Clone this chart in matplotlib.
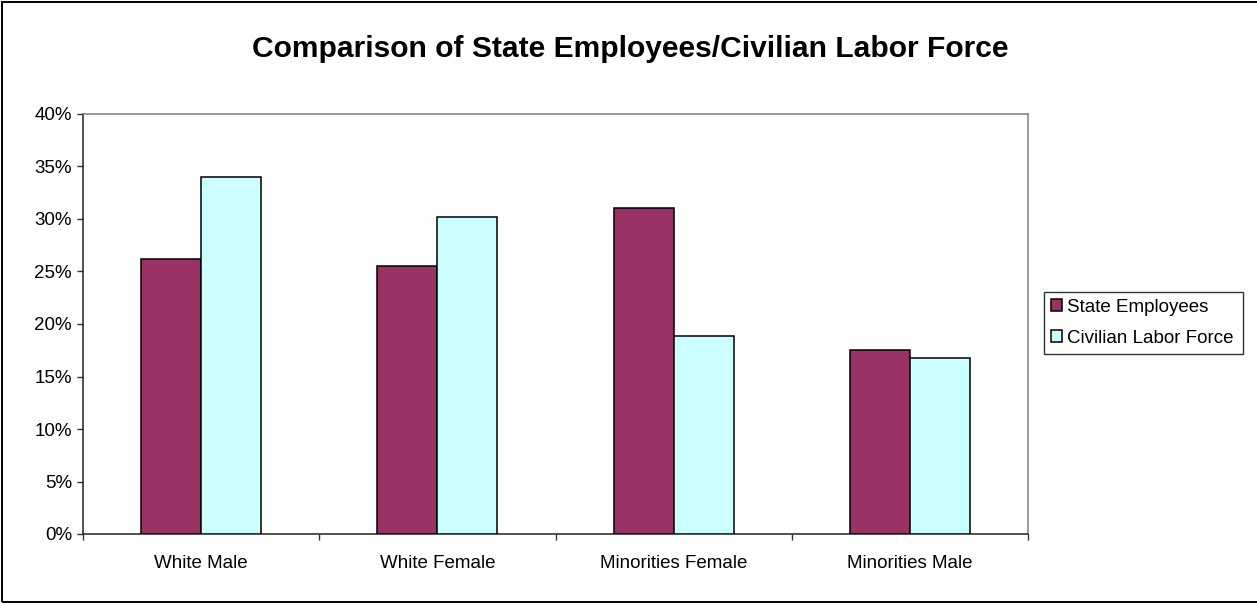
import numpy as np
import matplotlib
matplotlib.use("Agg")
import matplotlib.pyplot as plt
from matplotlib.patches import Rectangle

# ===============================
# Data
# ===============================
categories = ["White Male", "White Female", "Minorities Female", "Minorities Male"]
state_employees = [26.2, 25.5, 31.0, 17.5]
civilian_labor = [34.0, 30.2, 18.9, 16.8]
y_ticks = [0, 5, 10, 15, 20, 25, 30, 35, 40]

# ===============================
# Style
# ===============================
plt.rcParams["font.family"] = ["Liberation Sans", "DejaVu Sans"]
maroon = "#993366"
cyan = "#CCFFFF"
W, H = 1257, 603

fig = plt.figure(figsize=(W / 100, H / 100), dpi=100)

# outer chart border (right side runs off the image)
fig.add_artist(Rectangle((2 / W, 1 / H), 1.2, 600.5 / H, transform=fig.transFigure,
                         fill=False, edgecolor="black", linewidth=1.4))

ax = fig.add_axes([83 / W, (H - 534) / H, 945 / W, 420 / H])

x = np.arange(len(categories))
bw = 0.254
ax.bar(x - bw / 2, state_employees, bw, color=maroon, edgecolor="black",
       linewidth=1.1, label="State Employees", zorder=3)
ax.bar(x + bw / 2, civilian_labor, bw, color=cyan, edgecolor="black",
       linewidth=1.1, label="Civilian Labor Force", zorder=3)

ax.set_xlim(-0.5, len(categories) - 0.5)
ax.set_ylim(0, 40)

ax.set_yticks(y_ticks)
ax.set_yticklabels([f"{v}%" for v in y_ticks])
ax.tick_params(axis="y", direction="out", length=4.3, width=1, color="#333333",
               labelsize=13.5, pad=3.6)

ax.set_xticks(x)
ax.set_xticklabels(categories)
ax.set_xticks(np.arange(-0.5, len(categories), 1), minor=True)
ax.tick_params(axis="x", which="major", length=0, labelsize=13.5, pad=15)
ax.tick_params(axis="x", which="minor", direction="out", length=4.3, width=1,
               color="#333333")

for side in ["top", "right"]:
    ax.spines[side].set_color("#808080")
    ax.spines[side].set_linewidth(1.1)
for side in ["left", "bottom"]:
    ax.spines[side].set_color("#222222")
    ax.spines[side].set_linewidth(1.1)

fig.text(630 / W, 1 - 57 / H, "Comparison of State Employees/Civilian Labor Force",
         ha="center", va="baseline", fontsize=21.6, fontweight="bold")

leg = ax.legend(loc="center left", bbox_to_anchor=(1044 / W, 1 - 354 / H, 199 / W, 62 / H),
                bbox_transform=fig.transFigure, mode="expand", frameon=True,
                fancybox=False, edgecolor="black", fontsize=13.5, handlelength=0.6,
                handleheight=0.6, handletextpad=0.3, borderpad=0.35, labelspacing=0.75,
                borderaxespad=0)
leg.get_frame().set_linewidth(1.0)

fig.savefig("out.png", dpi=100)
